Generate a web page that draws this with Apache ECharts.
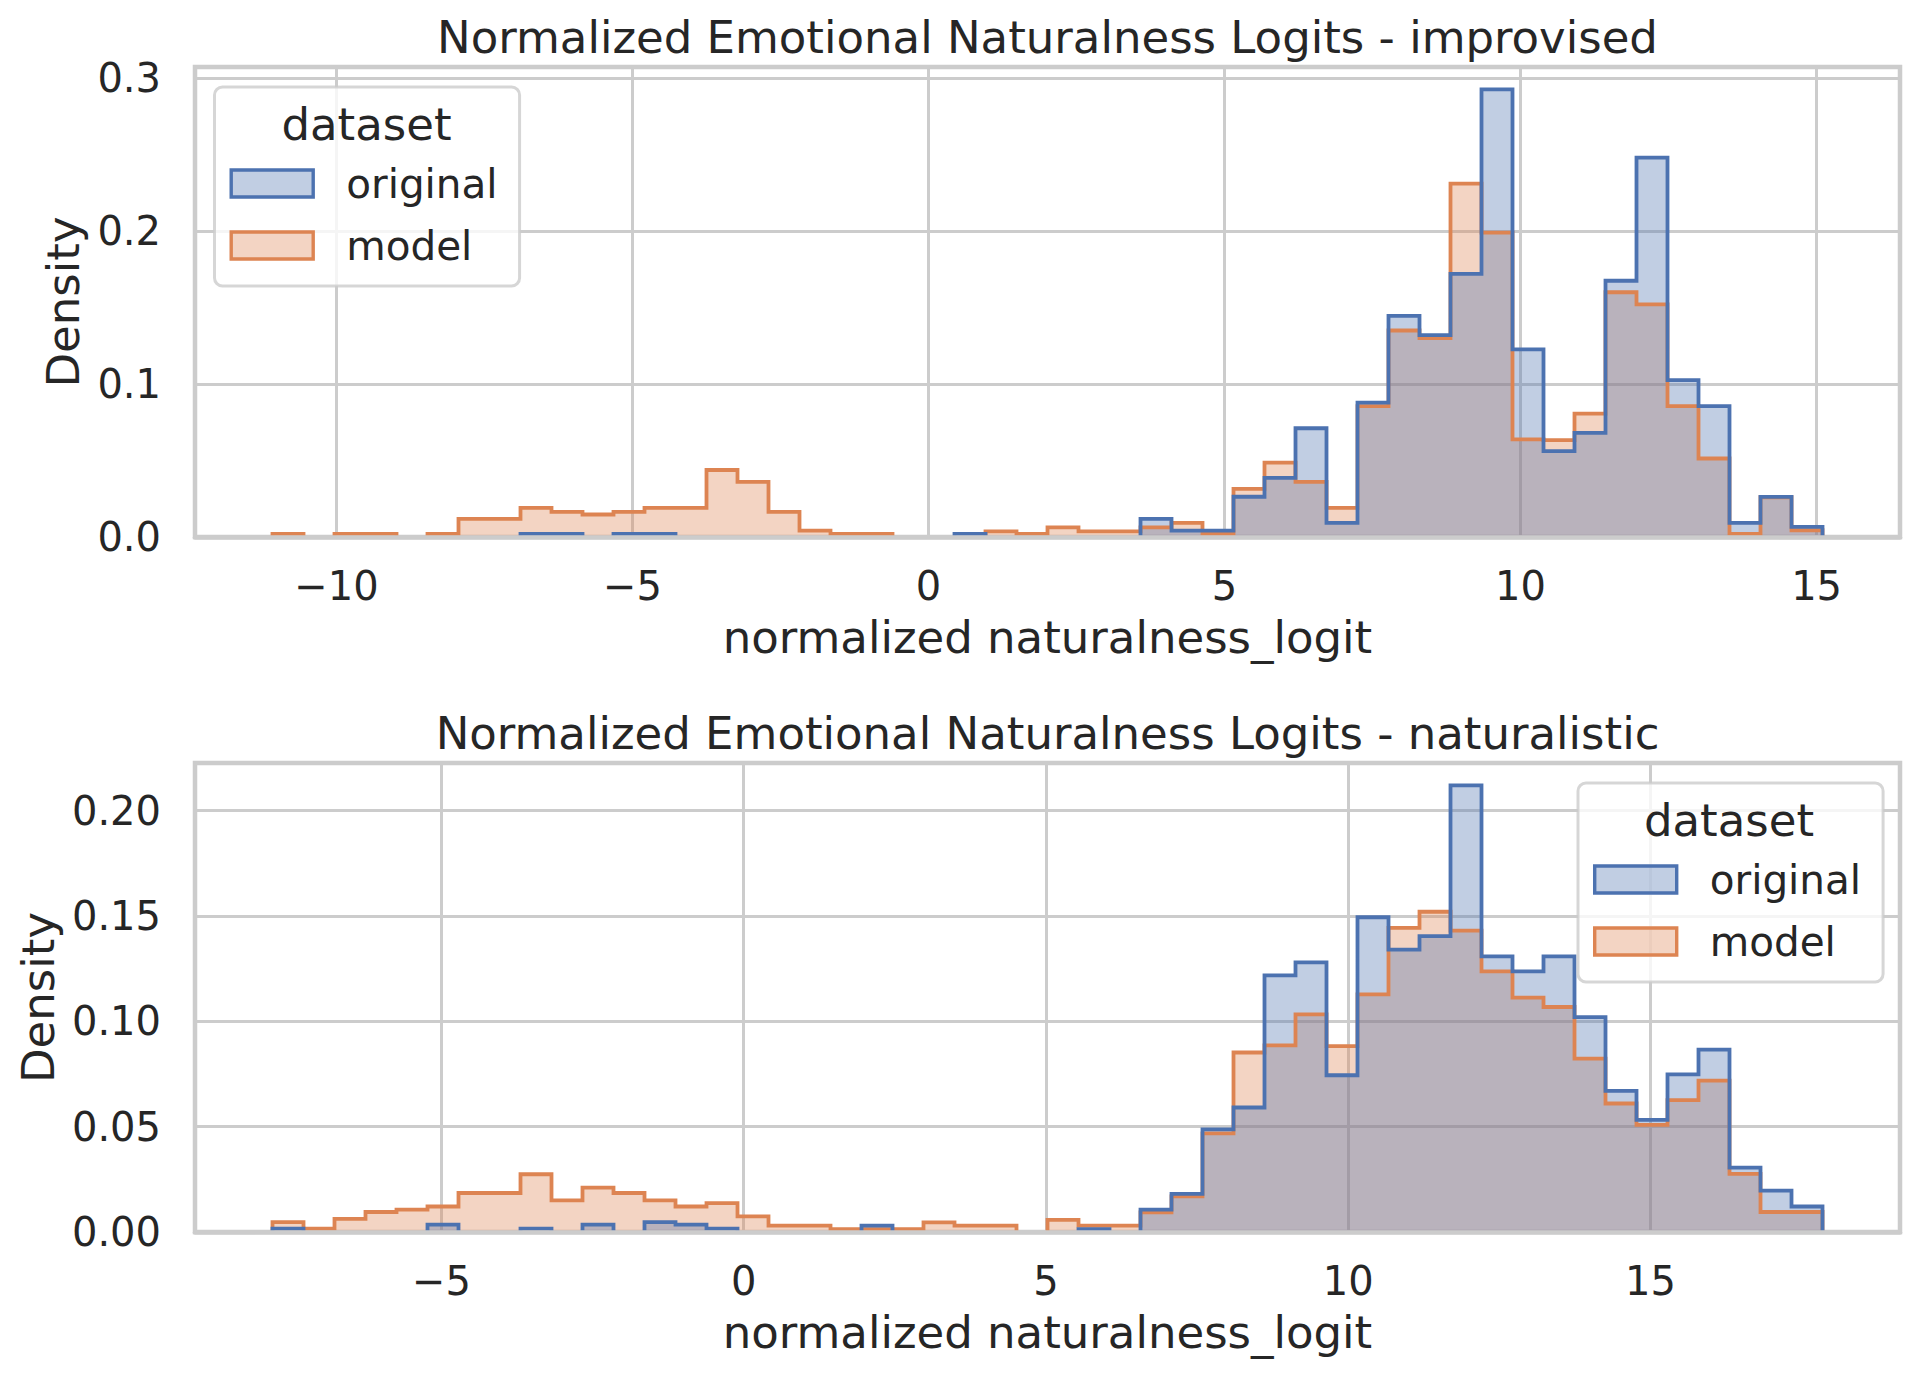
<!DOCTYPE html>
<html><head><meta charset="utf-8">
<script src="https://cdn.jsdelivr.net/npm/echarts@6/dist/echarts.min.js"></script>
<style>html,body{margin:0;padding:0;background:#fff}#c{width:1918px;height:1377px}</style>
</head><body><div id="c"></div>
<script>
// ---------- data ----------
const topTitle = 'Normalized Emotional Naturalness Logits - improvised';
const bottomTitle = 'Normalized Emotional Naturalness Logits - naturalistic';
const xName = 'normalized naturalness_logit';
const yName = 'Density';
const seriesNames = ['original', 'model'];
const legendTitle = 'dataset';
const binCount = 50;
const topBinRange = [-11.08, 15.10];
const bottomBinRange = [-7.795, 17.845];
const xTickStep = 5;
const topYTickStep = 0.1;
const bottomYTickStep = 0.05;

const topOriginal = [
  0, 0, 0, 0, 0, 0, 0, 0, 0.002, 0.002,
  0, 0.002, 0.002, 0, 0, 0, 0, 0, 0, 0,
  0, 0, 0.002, 0, 0, 0, 0, 0, 0.0118, 0.0042,
  0.0042, 0.0263, 0.0387, 0.0711, 0.0092, 0.0878, 0.1445, 0.132, 0.172, 0.2926,
  0.1227, 0.0561, 0.0681, 0.1675, 0.248, 0.1026, 0.0856, 0.0092, 0.0262, 0.0066
];
const topModel = [
  0.002, 0, 0.002, 0.002, 0, 0.002, 0.0118, 0.0118, 0.019, 0.0164,
  0.0147, 0.0164, 0.019, 0.019, 0.0438, 0.036, 0.0164, 0.0042, 0.002, 0.002,
  0, 0, 0, 0.0037, 0.002, 0.0063, 0.0037, 0.0037, 0.0063, 0.0092,
  0.002, 0.0315, 0.0486, 0.036, 0.019, 0.0856, 0.135, 0.130, 0.231, 0.199,
  0.0638, 0.0633, 0.0806, 0.160, 0.152, 0.0856, 0.0513, 0.002, 0.026, 0.0044
];
const bottomOriginal = [
  0.0016, 0, 0, 0, 0, 0.0035, 0, 0, 0.0016, 0,
  0.0035, 0, 0.0047, 0.0035, 0.0016, 0, 0, 0, 0, 0.003,
  0, 0, 0, 0, 0, 0, 0.0014, 0, 0.0106, 0.0181,
  0.0487, 0.0591, 0.1218, 0.128, 0.0744, 0.1494, 0.134, 0.1404, 0.212, 0.1308,
  0.1237, 0.1308, 0.102, 0.067, 0.0532, 0.0748, 0.0866, 0.0306, 0.0196, 0.0121
];
const bottomModel = [
  0.0047, 0.0016, 0.0062, 0.0095, 0.0106, 0.0121, 0.0185, 0.0185, 0.0274, 0.015,
  0.0211, 0.0185, 0.015, 0.0121, 0.0137, 0.0074, 0.003, 0.003, 0.0014, 0.0014,
  0.0014, 0.0046, 0.003, 0.003, 0, 0.0058, 0.003, 0.003, 0.0093, 0.0169,
  0.0468, 0.0852, 0.0886, 0.1033, 0.0882, 0.1128, 0.1443, 0.152, 0.143, 0.1237,
  0.1112, 0.1068, 0.0823, 0.061, 0.0508, 0.0626, 0.0718, 0.0276, 0.0095, 0.0095
];

// ---------- styling / layout ----------
const FONT = '"DejaVu Sans", "Liberation Sans", sans-serif';
const TXT = '#262626';
const GRIDC = '#cccccc';
const BLUE = '#4C72B0', ORANGE = '#DD8452';
const ALPHA = 0.35;
const BLUE_FILL = 'rgba(76,114,176,' + ALPHA + ')';
const ORANGE_FILL = 'rgba(221,132,82,' + ALPHA + ')';
const W = 1918;
const gridLeft = 195, gridRight = 18;
const topGrid = { top: 67, height: 470 };
const botGrid = { top: 763, height: 469 };
const LABEL_SIZE = 45, TICK_SIZE = 40, LEGEND_SIZE = 40.5;
const GRID_W = 3, SPINE_W = 4.5, STEP_W = 3.8;

function edgesOf(range) {
  const e = [];
  for (let k = 0; k <= binCount; k++) e.push(range[0] + (range[1] - range[0]) * k / binCount);
  return e;
}
function stepData(edges, vals) {
  const out = [];
  let run = false;
  for (let k = 0; k < vals.length; k++) {
    const v = vals[k];
    if (v > 0) {
      if (!run) { out.push([edges[k], 0]); run = true; }
      out.push([edges[k], v]);
    } else if (run) {
      out.push([edges[k], vals[k - 1]]);
      out.push([edges[k], 0]);
      out.push('-');
      run = false;
    }
  }
  if (run) {
    const n = vals.length;
    out.push([edges[n], vals[n - 1]]);
    out.push([edges[n], 0]);
  }
  return out;
}
function xExtent(range) {
  const pad = 0.05 * (range[1] - range[0]);
  return [range[0] - pad, range[1] + pad];
}
const fmtX = v => (v < 0 ? '\u2212' + Math.abs(v) : String(v));

function mainX(gridIndex, range) {
  const ext = xExtent(range);
  return {
    type: 'value', gridIndex, min: ext[0], max: ext[1],
    minInterval: xTickStep, maxInterval: xTickStep,
    name: xName, nameLocation: 'middle', nameGap: 78,
    nameTextStyle: { fontSize: LABEL_SIZE, color: TXT, fontFamily: FONT },
    axisLine: { show: false }, axisTick: { show: false },
    axisLabel: { fontSize: TICK_SIZE, color: TXT, fontFamily: FONT, margin: 29, formatter: fmtX,
      showMinLabel: false, showMaxLabel: false },
    splitLine: { show: true, lineStyle: { color: GRIDC, width: GRID_W } },
    z: 0
  };
}
function spineX(gridIndex, range) {
  const ext = xExtent(range);
  return {
    type: 'value', gridIndex, min: ext[0], max: ext[1], position: 'bottom', offset: 0,
    axisLine: { show: true, onZero: false, lineStyle: { color: GRIDC, width: SPINE_W } },
    axisTick: { show: false }, axisLabel: { show: false }, splitLine: { show: false },
    z: 20
  };
}
function mainY(gridIndex, vals, step, digits, gap) {
  return {
    type: 'value', gridIndex, min: 0, max: Math.max(...vals) * 1.05,
    minInterval: step, maxInterval: step,
    name: yName, nameLocation: 'middle', nameGap: gap,
    nameTextStyle: { fontSize: LABEL_SIZE, color: TXT, fontFamily: FONT },
    axisLine: { show: false }, axisTick: { show: false },
    axisLabel: { fontSize: TICK_SIZE, color: TXT, fontFamily: FONT, margin: 34,
      formatter: v => v.toFixed(digits), showMaxLabel: false },
    splitLine: { show: true, lineStyle: { color: GRIDC, width: GRID_W } },
    z: 0
  };
}
function histSeries(name, color, fill, xi, yi, edges, vals) {
  return {
    type: 'line', name, xAxisIndex: xi, yAxisIndex: yi, step: 'end',
    symbol: 'none', showSymbol: false, connectNulls: false, clip: true,
    data: stepData(edges, vals),
    lineStyle: { color, width: STEP_W, join: 'miter' },
    itemStyle: { color },
    areaStyle: { color: fill, opacity: 1, origin: 'start' },
    emphasis: { disabled: true }, silent: true, animation: false
  };
}
function legendAt(left, top) {
  return {
    orient: 'vertical', left, top, selectedMode: false,
    data: [
      { name: seriesNames[0], icon: 'rect', itemStyle: { color: BLUE_FILL, borderColor: BLUE, borderWidth: 3.4 } },
      { name: seriesNames[1], icon: 'rect', itemStyle: { color: ORANGE_FILL, borderColor: ORANGE, borderWidth: 3.4 } }
    ],
    itemWidth: 82, itemHeight: 27, itemGap: 21,
    padding: [76, 22, 20, 15],
    backgroundColor: 'rgba(255,255,255,0.8)', borderColor: 'rgba(204,204,204,0.8)',
    borderWidth: 3, borderRadius: 8,
    textStyle: { fontSize: LEGEND_SIZE, color: TXT, fontFamily: FONT, lineHeight: 40, padding: [0, 0, 0, 28] },
    z: 10
  };
}

const topEdges = edgesOf(topBinRange);
const botEdges = edgesOf(bottomBinRange);
const gridCenterX = gridLeft + (W - gridLeft - gridRight) / 2;

const textEl = (text, x, y, size) => ({
  type: 'text', x, y, z: 100, silent: true,
  style: { text, fontSize: size, fontFamily: FONT, fill: TXT, align: 'center', verticalAlign: 'middle' }
});

const option = {
  backgroundColor: '#ffffff',
  animation: false,
  textStyle: { fontFamily: FONT },
  grid: [
    { left: gridLeft, right: gridRight, top: topGrid.top, height: topGrid.height, show: true,
      borderColor: GRIDC, borderWidth: SPINE_W, backgroundColor: 'transparent', outerBoundsMode: 'none', containLabel: false },
    { left: gridLeft, right: gridRight, top: botGrid.top, height: botGrid.height, show: true,
      borderColor: GRIDC, borderWidth: SPINE_W, backgroundColor: 'transparent', outerBoundsMode: 'none', containLabel: false }
  ],
  xAxis: [mainX(0, topBinRange), spineX(0, topBinRange), mainX(1, bottomBinRange), spineX(1, bottomBinRange)],
  yAxis: [mainY(0, topOriginal.concat(topModel), topYTickStep, 1, 102),
          mainY(1, bottomOriginal.concat(bottomModel), bottomYTickStep, 2, 129)],
  legend: [legendAt(214.5, 87), legendAt(1578, 783)],
  series: [
    histSeries(seriesNames[1], ORANGE, ORANGE_FILL, 0, 0, topEdges, topModel),
    histSeries(seriesNames[0], BLUE, BLUE_FILL, 0, 0, topEdges, topOriginal),
    histSeries(seriesNames[1], ORANGE, ORANGE_FILL, 2, 1, botEdges, bottomModel),
    histSeries(seriesNames[0], BLUE, BLUE_FILL, 2, 1, botEdges, bottomOriginal)
  ],
  graphic: [
    textEl(topTitle, gridCenterX, 37, LABEL_SIZE),
    textEl(bottomTitle, gridCenterX, 733, LABEL_SIZE),
    textEl(legendTitle, 366.5, 124, LABEL_SIZE),
    textEl(legendTitle, 1729, 820, LABEL_SIZE)
  ]
};
const chart = echarts.init(document.getElementById('c'), null, { renderer: 'svg', width: 1918, height: 1377 });
chart.setOption(option);
</script></body></html>
